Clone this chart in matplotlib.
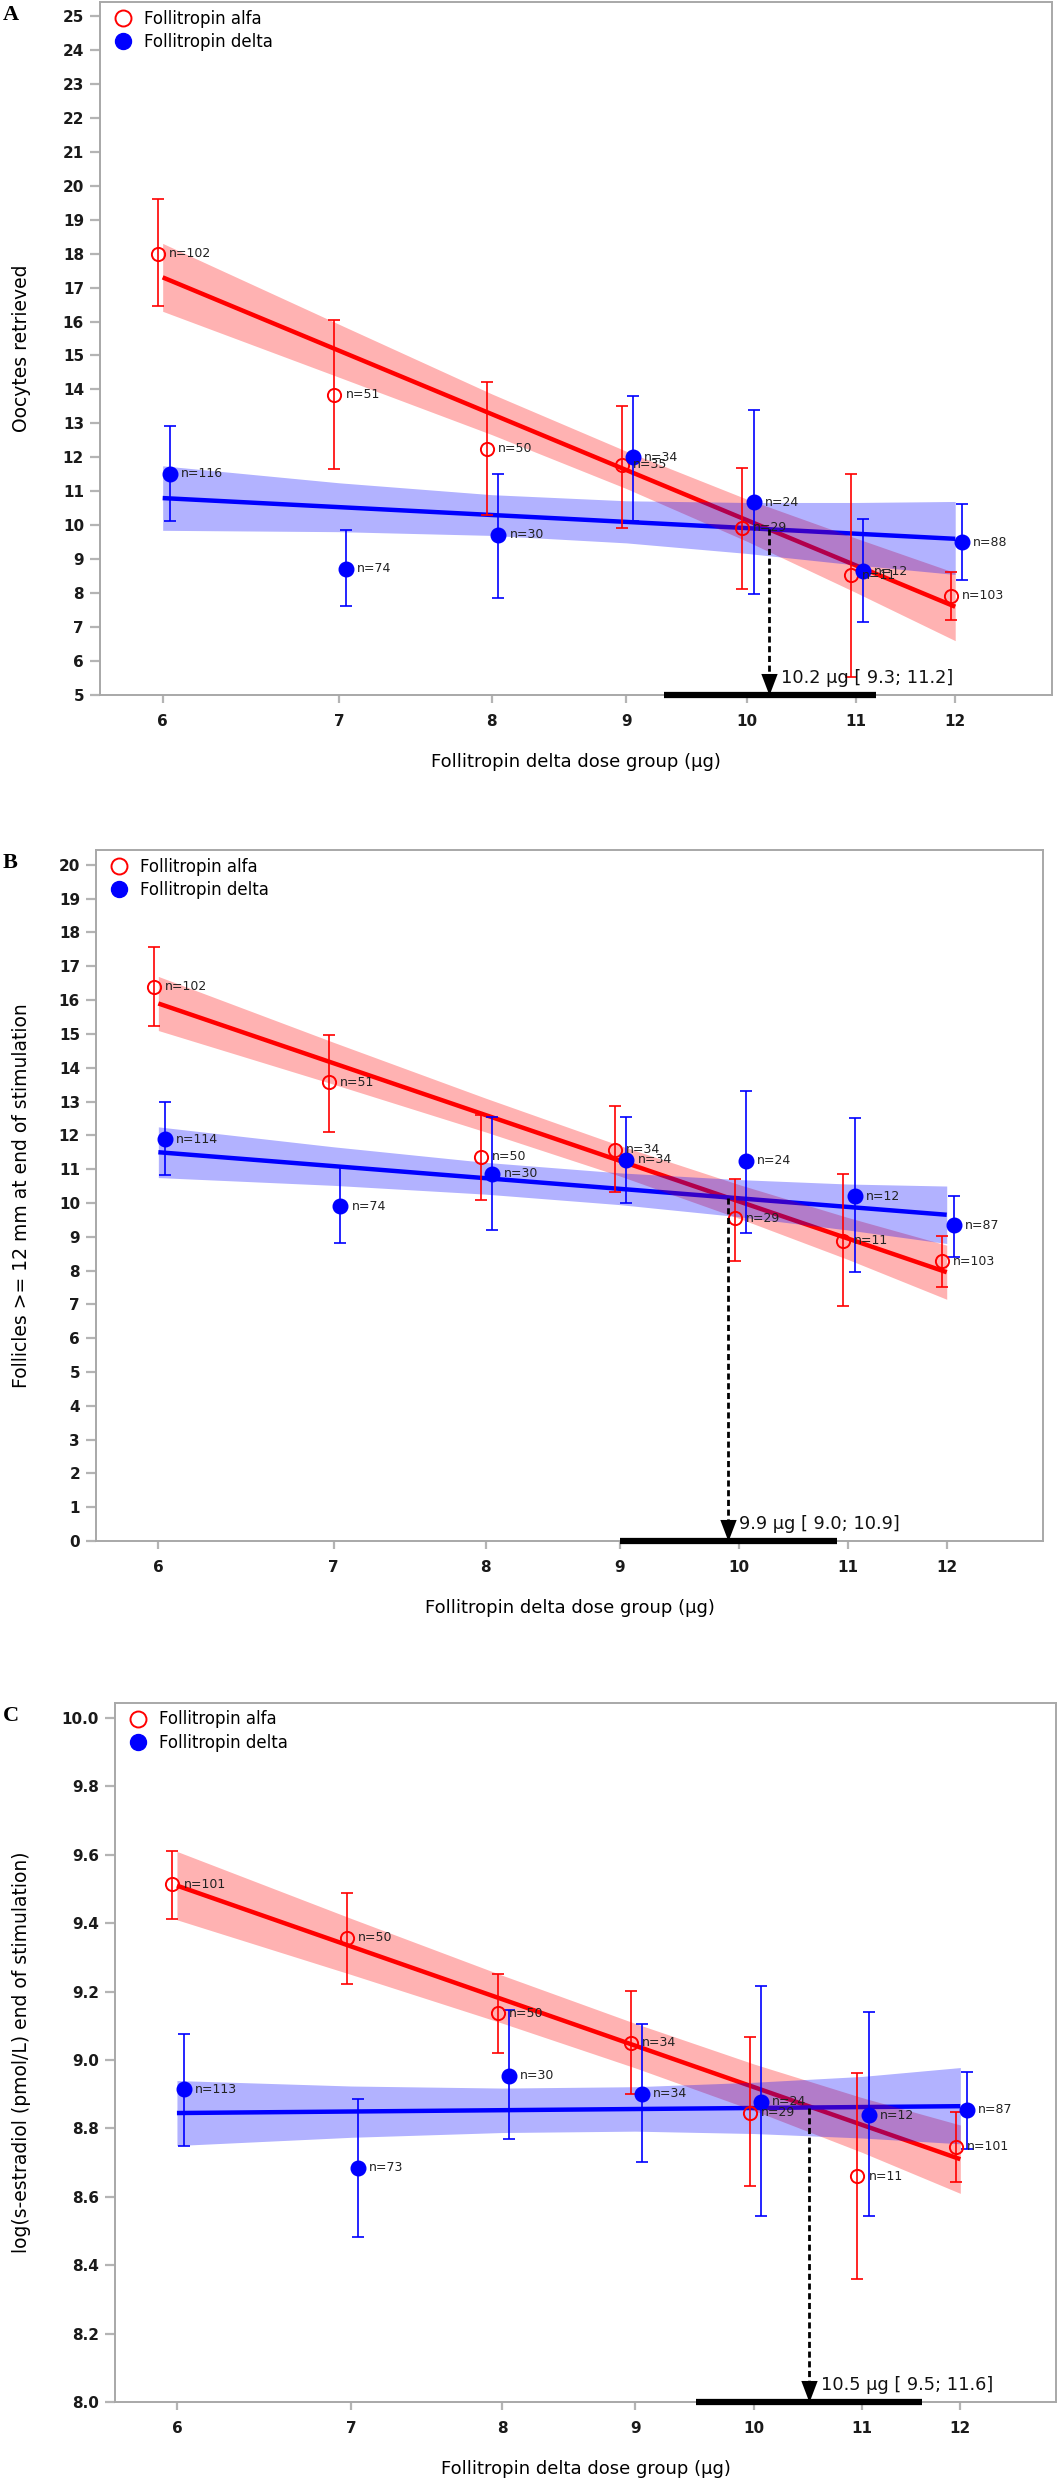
# dose-response plots: follitropin alfa vs follitropin delta (three endpoints)
import matplotlib
matplotlib.use('Agg')
import matplotlib.pyplot as plt
from matplotlib.lines import Line2D
from matplotlib.path import Path

plt.rcParams['font.family'] = ['DejaVu Sans']

doses = [6, 7, 8, 9, 10, 11, 12]
dose_labels = ['6', '7', '8', '9', '10', '11', '12']

# ---- panel A: oocytes retrieved
a_alfa_mean = [18.0, 13.85, 12.25, 11.78, 9.92, 8.53, 7.93]
a_alfa_lo = [16.45, 11.65, 10.29, 9.91, 8.12, 5.53, 7.2]
a_alfa_hi = [19.6, 16.05, 14.22, 13.5, 11.69, 11.52, 8.63]
a_alfa_n = [102, 51, 50, 35, 29, 11, 103]
a_delta_mean = [11.52, 8.72, 9.72, 12.0, 10.68, 8.64, 9.5]
a_delta_lo = [10.12, 7.61, 7.87, 10.13, 7.96, 7.15, 8.38]
a_delta_hi = [12.93, 9.86, 11.52, 13.8, 13.39, 10.17, 10.63]
a_delta_n = [116, 74, 30, 34, 24, 12, 88]
a_alfa_fit = [17.3, 7.6]      # fitted line at 6 and 12 ug
a_delta_fit = [10.8, 9.6]
a_alfa_band_lo = [16.3, 14.36, 12.67, 11.08, 9.53, 8.02, 6.6]
a_alfa_band_hi = [18.3, 15.92, 13.87, 12.18, 10.77, 9.62, 8.6]
a_delta_band_lo = [9.85, 9.81, 9.70, 9.48, 9.17, 8.83, 8.55]
a_delta_band_hi = [11.75, 11.25, 10.90, 10.72, 10.67, 10.67, 10.7]

# ---- panel B: follicles >= 12 mm
b_alfa_mean = [16.4, 13.57, 11.36, 11.58, 9.54, 8.88, 8.27]
b_alfa_lo = [15.23, 12.09, 10.1, 10.31, 8.27, 6.95, 7.51]
b_alfa_hi = [17.56, 14.98, 12.6, 12.86, 10.72, 10.87, 9.03]
b_alfa_n = [102, 51, 50, 34, 29, 11, 103]
b_delta_mean = [11.88, 9.9, 10.87, 11.28, 11.25, 10.2, 9.34]
b_delta_lo = [10.82, 8.81, 9.2, 10.0, 9.1, 7.97, 8.39]
b_delta_hi = [12.98, 11.05, 12.53, 12.55, 13.31, 12.5, 10.21]
b_delta_n = [114, 74, 30, 34, 24, 12, 87]
b_alfa_fit = [15.9, 7.95]
b_delta_fit = [11.5, 9.65]
b_alfa_band_lo = [15.1, 13.51, 12.10, 10.80, 9.54, 8.33, 7.15]
b_alfa_band_hi = [16.7, 14.75, 13.10, 11.70, 10.54, 9.57, 8.75]
b_delta_band_lo = [10.75, 10.52, 10.26, 9.95, 9.59, 9.20, 8.8]
b_delta_band_hi = [12.25, 11.66, 11.20, 10.89, 10.69, 10.56, 10.5]

# ---- panel C: log(s-estradiol)
c_alfa_mean = [9.514, 9.358, 9.137, 9.051, 8.846, 8.66, 8.746]
c_alfa_lo = [9.413, 9.221, 9.021, 8.90, 8.631, 8.359, 8.644]
c_alfa_hi = [9.612, 9.488, 9.251, 9.203, 9.068, 8.963, 8.849]
c_alfa_n = [101, 50, 50, 34, 29, 11, 101]
c_delta_mean = [8.915, 8.685, 8.954, 8.902, 8.878, 8.839, 8.854]
c_delta_lo = [8.75, 8.483, 8.768, 8.703, 8.543, 8.543, 8.739]
c_delta_hi = [9.076, 8.886, 9.146, 9.105, 9.217, 9.14, 8.965]
c_delta_n = [113, 73, 30, 34, 24, 12, 87]
c_alfa_fit = [9.51, 8.71]
c_delta_fit = [8.845, 8.865]
c_alfa_band_lo = [9.41, 9.25, 9.108, 8.977, 8.852, 8.73, 8.61]
c_alfa_band_hi = [9.61, 9.414, 9.248, 9.107, 8.988, 8.89, 8.81]
c_delta_band_lo = [8.75, 8.774, 8.788, 8.792, 8.785, 8.772, 8.755]
c_delta_band_hi = [8.94, 8.924, 8.918, 8.922, 8.935, 8.952, 8.978]

# equivalence dose (crossing of the two fitted lines) and its CI
cross_dose = [10.2, 9.9, 10.5]
cross_y = [9.9, 10.15, 8.86]
cross_ci = [(9.3, 11.2), (9.0, 10.9), (9.5, 11.6)]
cross_text = ['10.2 \u00b5g [ 9.3; 11.2]', '9.9 \u00b5g [ 9.0; 10.9]', '10.5 \u00b5g [ 9.5; 11.6]']

W, H = 1057, 2480
RED, BLUE = '#ff0000', '#0000ff'
GREY = '#a8a8a8'

# arrow head with its tip at the marker origin
tip_marker = Path([(0, 0), (-0.38, 1.0), (0.38, 1.0), (0, 0)],
                  [Path.MOVETO, Path.LINETO, Path.LINETO, Path.CLOSEPOLY])

panels = [
    dict(letter='A', box=(100, 2, 1052, 695), ylim=(5, 25.41), yticks=list(range(5, 26)), yfmt='{:d}',
         ylabel='Oocytes retrieved',
         alfa=(a_alfa_mean, a_alfa_lo, a_alfa_hi, a_alfa_n, a_alfa_fit, a_alfa_band_lo, a_alfa_band_hi),
         delta=(a_delta_mean, a_delta_lo, a_delta_hi, a_delta_n, a_delta_fit, a_delta_band_lo, a_delta_band_hi)),
    dict(letter='B', box=(96, 850, 1043, 1541), ylim=(0, 20.44), yticks=list(range(0, 21)), yfmt='{:d}',
         ylabel='Follicles >= 12 mm at end of stimulation',
         alfa=(b_alfa_mean, b_alfa_lo, b_alfa_hi, b_alfa_n, b_alfa_fit, b_alfa_band_lo, b_alfa_band_hi),
         delta=(b_delta_mean, b_delta_lo, b_delta_hi, b_delta_n, b_delta_fit, b_delta_band_lo, b_delta_band_hi)),
    dict(letter='C', box=(115, 1703, 1056, 2402), ylim=(8.0, 10.044),
         yticks=[8.0, 8.2, 8.4, 8.6, 8.8, 9.0, 9.2, 9.4, 9.6, 9.8, 10.0], yfmt='{:.1f}',
         ylabel='log(s-estradiol (pmol/L) end of stimulation)',
         alfa=(c_alfa_mean, c_alfa_lo, c_alfa_hi, c_alfa_n, c_alfa_fit, c_alfa_band_lo, c_alfa_band_hi),
         delta=(c_delta_mean, c_delta_lo, c_delta_hi, c_delta_n, c_delta_fit, c_delta_band_lo, c_delta_band_hi)),
]

fig = plt.figure(figsize=(W / 100, H / 100), dpi=100)

for i, p in enumerate(panels):
    L, T, R, B = p['box']
    ax = fig.add_axes([L / W, 1 - B / H, (R - L) / W, (B - T) / H])
    ax.set_xscale('log')
    ax.set_xlim(5.68, 13.06)
    ax.set_ylim(*p['ylim'])

    for key, color, shift, filled in [('alfa', RED, 0.996, False), ('delta', BLUE, 1.006, True)]:
        mean, lo, hi, n, fit, band_lo, band_hi = p[key]
        ax.plot([doses[0], doses[-1]], fit, color=color, lw=3.2, zorder=2, solid_capstyle='butt')
        ax.fill_between(doses, band_lo, band_hi, color=color, alpha=0.3, lw=0, zorder=2.5)
        xs = [d * shift for d in doses]
        yerr = [[m - l for m, l in zip(mean, lo)], [h - m for m, h in zip(mean, hi)]]
        ax.errorbar(xs, mean, yerr=yerr, fmt='none', ecolor=color, elinewidth=1.2,
                    capsize=4.5, capthick=1.2, zorder=4)
        if filled:
            ax.plot(xs, mean, 'o', ms=10.5, mfc=color, mec=color, zorder=5)
        else:
            ax.plot(xs, mean, 'o', ms=9.5, mfc='none', mec=color, mew=1.4, zorder=5)
        for x, y, k in zip(xs, mean, n):
            ax.annotate(f'n={k}', (x, y), xytext=(8, 0), textcoords='offset points',
                        va='center', ha='left', fontsize=9, color='#222222', zorder=6)

    # crossing dose: dashed drop line, arrow, CI bar and label
    ymin = p['ylim'][0]
    xc = cross_dose[i]
    ax.plot([xc, xc], [cross_y[i], ymin], color='black', lw=2, ls=(0, (2.2, 1.3)), zorder=6)
    ax.plot([xc], [ymin], marker=tip_marker, ms=31, color='black', mew=0, ls='none',
            clip_on=False, zorder=7)
    ax.plot(list(cross_ci[i]), [ymin, ymin], color='black', lw=4.5, solid_capstyle='butt',
            clip_on=False, zorder=7)
    ax.annotate(cross_text[i], (xc, ymin), xytext=(8, 12), textcoords='offset points',
                ha='left', va='center', fontsize=12.8, color='#111111', zorder=7)

    # axes styling
    ax.set_xticks(doses)
    ax.set_xticklabels(dose_labels)
    ax.xaxis.set_minor_locator(matplotlib.ticker.NullLocator())
    ax.set_yticks(p['yticks'])
    ax.set_yticklabels([p['yfmt'].format(v) for v in p['yticks']])
    for s in ax.spines.values():
        s.set_color(GREY)
        s.set_linewidth(1.4)
    ax.tick_params(axis='y', length=7, width=1.6, color='#b4b4b4', pad=4.5, labelsize=11,
                   labelcolor='#1a1a1a')
    ax.tick_params(axis='x', length=6, width=1.6, color='#b4b4b4', pad=8, labelsize=11,
                   labelcolor='#1a1a1a')
    plt.setp(ax.get_xticklabels() + ax.get_yticklabels(), fontweight='bold')

    ax.set_xlabel('Follitropin delta dose group (\u00b5g)', fontsize=13, va='center')
    ax.xaxis.set_label_coords(0.5, -67 / (B - T))
    ax.set_ylabel(p['ylabel'], fontsize=13.5, va='center')
    ax.yaxis.set_label_coords((22 - L) / (R - L), 0.5)

    handles = [Line2D([], [], ls='none', marker='o', ms=11.5, mfc='none', mec=RED, mew=1.4),
               Line2D([], [], ls='none', marker='o', ms=11.5, mfc=BLUE, mec=BLUE)]
    ax.legend(handles, ['Follitropin alfa', 'Follitropin delta'], loc='upper left', frameon=False,
              fontsize=12, borderaxespad=0.45, borderpad=0, handlelength=1.85,
              handletextpad=0.35, labelspacing=0.33)

    fig.text(3 / W, 1 - (T + 13) / H, p['letter'], family='Liberation Serif', fontweight='bold',
             fontsize=16, ha='left', va='center')

fig.savefig('out.png', dpi=100)
